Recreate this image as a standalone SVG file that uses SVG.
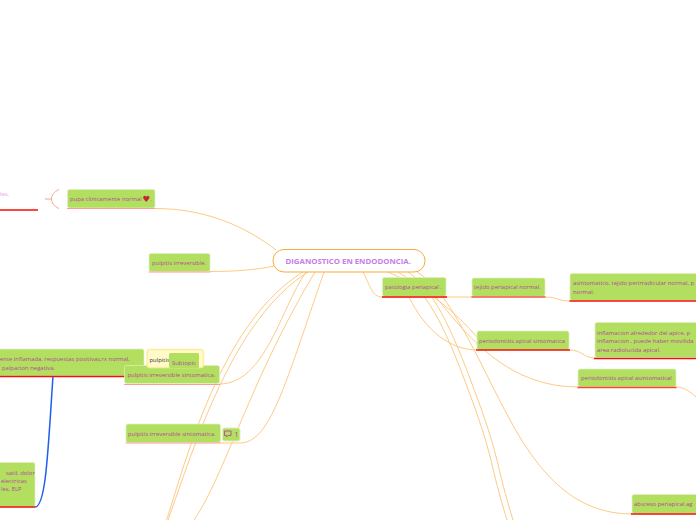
<svg xmlns="http://www.w3.org/2000/svg" width="696" height="520" viewBox="0 0 696 520">
<style>
text{font-family:"Open Sans","Noto Sans","Liberation Sans",sans-serif;font-size:5.9px;fill:#b5479b}
.n{fill:#b2df60;stroke:#dff0c0;stroke-width:.7}
.c{fill:none;stroke:#fdcb85;stroke-width:1}
.r{stroke:#f60d0d;stroke-width:1.5}
.p{stroke:#ff9a96;stroke-width:1.2}
</style>
<rect width="696" height="520" fill="#fff"/>
<g id="connectors">
<path class="c" d="M155 208.500C205 208.500 245 226 276 250"/>
<path class="c" d="M210 271.500C235 271.500 255 270 275 266"/>
<path class="c" d="M219 384C265 384 280 310 306 272"/>
<path class="c" d="M220 443H240C270 443 285 385 324 272"/>
<path class="c" d="M166.700 520C190 445 225 320 303 272"/>
<path class="c" d="M168 520C195 445 232 320 308 272"/>
<path class="c" d="M194 520C225 475 250 380 315 272"/>
<path class="c" d="M363 272C370 285 372 297 382 297H446"/>
<path class="c" d="M446 297H472"/>
<path class="c" d="M545 297C558 297 558 301 570 301"/>
<path class="c" d="M388 272C410 282 440 295 477 337"/>
<path class="c" d="M409 297C425 330 450 350 477 350"/>
<path class="c" d="M569 350C583 350 583 358 595 358"/>
<path class="c" d="M436 297C470 340 510 387 578 387"/>
<path class="c" d="M676 387C685 387 690 392 696 397"/>
<path class="c" d="M417 272C450 290 480 365 510 420C540 475 575 514 632 514"/>
<path class="c" d="M398 272C430 290 450 340 472 400S490 465 507 520"/>
<path class="c" d="M408 272C436 290 456 340 478 400S496 465 513 520"/>
<path d="M45 199H52" fill="none" stroke="#eeaa88" stroke-width="1"/>
<path d="M59 189.500C49 194 49 204 59 208.500" fill="none" stroke="#eeaa88" stroke-width="1"/>
<path d="M53 376C48 450 46 507 35 507" fill="none" stroke="#1f5fee" stroke-width="1.500"/>
</g>
<g id="center">
<rect x="273" y="249.500" width="152" height="22.500" rx="11" fill="#fff" stroke="#f9ab3c" stroke-width="1"/>
<text x="285.500" y="264" style="font-size:7.800px;font-weight:700;fill:#c77be8">DIGANOSTICO EN ENDODONCIA.</text>
</g>
<g id="partial-top">
<text x="0" y="196" style="fill:#e9a0e4">les,</text>
<path class="r" d="M0 210H38"/>
</g>
<g id="pupa">
<rect class="n" x="67.500" y="189.500" width="87.500" height="18.500" rx="2"/>
<path class="p" d="M67 208.500H155"/>
<text x="70" y="201">pupa clinicamente normal</text>
<text x="142.500" y="202" style="font-size:8.500px;fill:#c8252c;font-family:'DejaVu Sans',sans-serif">♥</text>
<text x="150.500" y="201">.</text>
</g>
<g id="pulpitis-irreversible">
<rect class="n" x="149" y="253.500" width="61" height="18" rx="2"/>
<path class="p" d="M148.500 272H210.500"/>
<text x="152" y="265">pulpitis irreversible.</text>
</g>
<g id="inflamed">
<rect class="n" x="-3" y="349" width="147" height="27" rx="2"/>
<path class="r" d="M0 376.500H144"/>
<text x="0" y="361">ente inflamada, respuestas positivas,rx normal,</text>
<text x="2" y="369.500">palpacion negativa.</text>
</g>
<g id="pulpitis-sint-1">
<rect class="n" x="124.500" y="365.500" width="95" height="18" rx="2"/>
<path class="p" d="M124 384.500H220"/>
<text x="127.500" y="377">pulpitis irreversible sintomatica.</text>
</g>
<g id="pulpitis-callout">
<rect x="147" y="349.500" width="56.500" height="18" rx="3" fill="#fffac8" stroke="#faeea0" stroke-width="1.500"/>
<text x="149.500" y="362" style="fill:#333">pulpitis</text>
<rect x="169" y="353" width="30" height="15" rx="1.500" fill="#b2df60"/>
<text x="172" y="365">Subtopic</text>
</g>
<g id="pulpitis-sint-2">
<rect class="n" x="126" y="424" width="94.500" height="18.500" rx="2"/>
<path class="p" d="M125.500 443H220.500"/>
<text x="128" y="436">pulpitis irreversible sintomatica.</text>
<rect x="222.500" y="428" width="17.500" height="13" rx="2" fill="#b2df60" stroke="#dff0c0"/>
<path d="M224.500 431H231V435.500H228L226.500 437V435.500H224.500Z" fill="none" stroke="#b5479b" stroke-width=".9"/>
<text x="234.500" y="437" style="font-size:7px">1</text>
</g>
<g id="partial-bottom">
<rect class="n" x="-3" y="462.500" width="38" height="44.500" rx="2"/>
<path class="r" d="M0 507H35"/>
<text x="6" y="474.500">satil, dolor</text>
<text x="1" y="482.500">electricas</text>
<text x="1" y="491">les, ELP</text>
</g>
<g id="patologia">
<rect class="n" x="382.500" y="277.500" width="63.500" height="19" rx="2"/>
<path class="r" d="M382 297H447"/>
<text x="385" y="289">patologia periapical .</text>
</g>
<g id="tejido">
<rect class="n" x="472" y="278" width="73" height="18.500" rx="2"/>
<path d="M471.500 297H545.500" stroke="#f5564a" stroke-width="1.500"/>
<text x="474" y="289">tejido periapical normal.</text>
</g>
<g id="asintomatico">
<rect class="n" x="570" y="273.500" width="130" height="27" rx="2"/>
<path class="r" d="M569.500 301H696"/>
<text x="573" y="285">asintomatico, tejido perirradicular normal, p</text>
<text x="573" y="293.500">normal.</text>
</g>
<g id="periodontitis-sint">
<rect class="n" x="477" y="331" width="92" height="19" rx="2"/>
<path class="r" d="M476 350H570"/>
<text x="479" y="342.500">periodontitis apical sintomatica</text>
</g>
<g id="inflamacion">
<rect class="n" x="595" y="322.500" width="105" height="35" rx="2"/>
<path class="r" d="M594 358.500H696"/>
<text x="597" y="334.500">inflamacion alrededor del apice, p</text>
<text x="597" y="343">inflamacion  , puede haber movilida</text>
<text x="597" y="351.500">area radiolucida apical.</text>
</g>
<g id="periodontitis-asint">
<rect class="n" x="578" y="369" width="98" height="18" rx="2"/>
<path d="M577.500 387.500H676.500" stroke="#f5463a" stroke-width="1.500"/>
<text x="581" y="380">periodontitis apical asintomatical</text>
</g>
<g id="absceso">
<rect class="n" x="632" y="494.500" width="68" height="19" rx="2"/>
<path class="r" d="M631 514H696"/>
<text x="634" y="506">absceso periapical ag</text>
</g>
</svg>
